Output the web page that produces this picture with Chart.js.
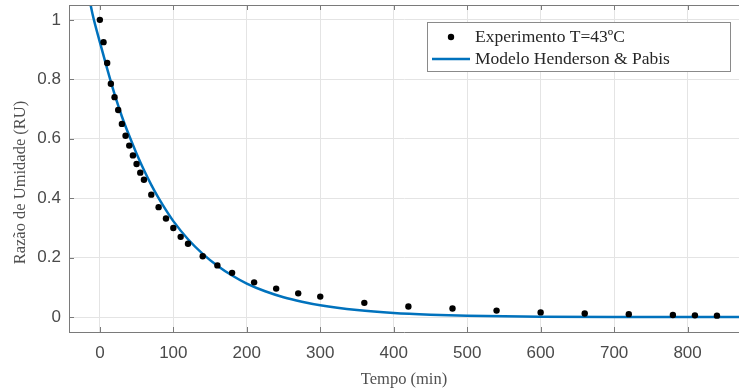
<!DOCTYPE html>
<html>
<head>
<meta charset="utf-8">
<script src="https://cdn.jsdelivr.net/npm/chart.js@4/dist/chart.umd.min.js"></script>
<style>
  html, body { margin: 0; padding: 0; background: #ffffff; }
  #wrap { position: relative; width: 739px; height: 392px; }
</style>
</head>
<body>
<div id="wrap"><canvas id="c" width="739" height="392"></canvas></div>
<script>
// ---- data ----
const xTicks = [0, 100, 200, 300, 400, 500, 600, 700, 800];
const yTicks = [0, 0.2, 0.4, 0.6, 0.8, 1];
const yTickLabels = ['0', '0.2', '0.4', '0.6', '0.8', '1'];

const expLabel = 'Experimento T=43ºC';
const expTime = [0, 5, 10, 15, 20, 25, 30, 35, 40, 45, 50, 55, 60, 70, 80, 90, 100, 110, 120, 140, 160, 180, 210, 240, 270, 300, 360, 420, 480, 540, 600, 660, 720, 780, 810, 840];
const expRU = [1.0, 0.925, 0.855, 0.785, 0.74, 0.697, 0.65, 0.61, 0.577, 0.544, 0.515, 0.486, 0.462, 0.412, 0.37, 0.332, 0.30, 0.27, 0.247, 0.205, 0.174, 0.149, 0.117, 0.096, 0.08, 0.069, 0.048, 0.036, 0.029, 0.022, 0.016, 0.012, 0.010, 0.007, 0.006, 0.005];

const modelLabel = 'Modelo Henderson & Pabis';
const modelTime = [-15, -10, 0, 10, 20, 30, 40, 50, 60, 70, 80, 90, 100, 120, 140, 160, 180, 200, 225, 250, 275, 300, 350, 400, 450, 500, 550, 600, 700, 800, 870];
const modelRU = [1.08, 1.02, 0.925, 0.835, 0.75, 0.675, 0.61, 0.55, 0.495, 0.445, 0.40, 0.36, 0.323, 0.262, 0.213, 0.173, 0.14, 0.113, 0.087, 0.067, 0.052, 0.040, 0.024, 0.014, 0.0083, 0.0049, 0.0029, 0.0017, 0.0006, 0.0002, 0.0001];

const xTitle = 'Tempo (min)';
const yTitle = 'Razão de Umidade (RU)';

// ---- styles ----
const BLUE = '#0072BD';
const AXIS = '#7a7a7a';
const GRID = '#e4e4e4';
const TICKTXT = '#4a4a4a';
const TITLETXT = '#505050';
const SANS = "'Liberation Sans', Arial, sans-serif";
const SERIF = "'Liberation Serif', 'Times New Roman', serif";

const framePlugin = {
  id: 'frame',
  afterDatasetsDraw(chart) {
    const {ctx, chartArea: a, scales: {x, y}} = chart;
    ctx.save();
    ctx.strokeStyle = AXIS;
    ctx.lineWidth = 1;
    ctx.beginPath();
    ctx.moveTo(a.left, a.top + 0.5);
    ctx.lineTo(a.right, a.top + 0.5);
    xTicks.forEach(v => {
      const px = Math.round(x.getPixelForValue(v)) + 0.5;
      ctx.moveTo(px, a.bottom);
      ctx.lineTo(px, a.bottom - 5);
      ctx.moveTo(px, a.top);
      ctx.lineTo(px, a.top + 5);
    });
    yTicks.forEach(v => {
      const py = Math.round(y.getPixelForValue(v)) + 0.5;
      ctx.moveTo(a.left, py);
      ctx.lineTo(a.left + 5, py);
    });
    ctx.stroke();
    ctx.restore();
  },
  afterDraw(chart) {
    const {ctx, chartArea: a} = chart;
    const ds = chart.data.datasets;
    // y axis title (centred slightly below the plot centre, as in the reference)
    ctx.save();
    ctx.fillStyle = TITLETXT;
    ctx.font = '16.5px ' + SERIF;
    ctx.textAlign = 'center';
    ctx.textBaseline = 'middle';
    ctx.translate(21, (a.top + a.bottom) / 2 + 14);
    ctx.rotate(-Math.PI / 2);
    ctx.fillText(yTitle, 0, 0);
    ctx.restore();
    // legend
    const boxR = a.right - 8, boxL = a.left + 358, boxT = a.top + 17, boxB = a.top + 67;
    ctx.save();
    ctx.fillStyle = '#ffffff';
    ctx.fillRect(boxL, boxT, boxR - boxL, boxB - boxT);
    ctx.strokeStyle = '#8a8a8a';
    ctx.lineWidth = 1;
    ctx.strokeRect(boxL + 0.5, boxT + 0.5, boxR - boxL - 1, boxB - boxT - 1);
    const row1 = boxT + 15, row2 = boxT + 37;
    ctx.fillStyle = '#000000';
    ctx.beginPath();
    ctx.arc(boxL + 24, row1, 3.2, 0, Math.PI * 2);
    ctx.fill();
    ctx.strokeStyle = BLUE;
    ctx.lineWidth = 2.5;
    ctx.beginPath();
    ctx.moveTo(boxL + 5, row2);
    ctx.lineTo(boxL + 43, row2);
    ctx.stroke();
    ctx.fillStyle = '#262626';
    ctx.font = '17.5px ' + SERIF;
    ctx.textBaseline = 'middle';
    ctx.textAlign = 'left';
    ctx.fillText(ds[0].label, boxL + 48, row1);
    ctx.fillText(ds[1].label, boxL + 48, row2);
    ctx.restore();
  }
};

new Chart(document.getElementById('c'), {
  type: 'scatter',
  data: {
    datasets: [
      {
        label: expLabel,
        data: expTime.map((t, i) => ({x: t, y: expRU[i]})),
        backgroundColor: '#000000',
        borderColor: '#000000',
        pointRadius: 3.2,
        pointBorderWidth: 0,
        showLine: false
      },
      {
        label: modelLabel,
        data: modelTime.map((t, i) => ({x: t, y: modelRU[i]})),
        borderColor: BLUE,
        backgroundColor: BLUE,
        borderWidth: 2.5,
        pointRadius: 0,
        showLine: true,
        cubicInterpolationMode: 'monotone',
        clip: 0
      }
    ]
  },
  options: {
    responsive: false,
    animation: false,
    devicePixelRatio: 1,
    layout: { autoPadding: false, padding: { left: 0, right: 0, top: 5, bottom: 0 } },
    plugins: { legend: { display: false }, tooltip: { enabled: false } },
    scales: {
      x: {
        type: 'linear',
        min: -42,
        max: 870,
        afterBuildTicks: s => { s.ticks = xTicks.map(v => ({value: v})); },
        afterFit: s => { s.height = 60; s.paddingLeft = 0; s.paddingRight = 0; },
        grid: { color: GRID, drawTicks: false, lineWidth: 1 },
        border: { display: true, color: AXIS, width: 1 },
        ticks: {
          color: TICKTXT,
          font: { family: SANS, size: 17 },
          padding: 11,
          maxRotation: 0,
          callback: v => String(v)
        },
        title: {
          display: true,
          text: xTitle,
          color: TITLETXT,
          font: { family: SERIF, size: 16.5 },
          padding: { top: 0, bottom: 2 }
        }
      },
      y: {
        type: 'linear',
        min: -0.05,
        max: 1.05,
        afterBuildTicks: s => { s.ticks = yTicks.map(v => ({value: v})); },
        afterFit: s => { s.width = 69; s.paddingTop = 0; s.paddingBottom = 0; },
        grid: { color: GRID, drawTicks: false, lineWidth: 1 },
        border: { display: true, color: AXIS, width: 1 },
        ticks: {
          color: TICKTXT,
          font: { family: SANS, size: 17 },
          padding: 8,
          callback: (v) => yTickLabels[yTicks.indexOf(v)] ?? String(v)
        },
        title: { display: false, text: yTitle }
      }
    }
  },
  plugins: [framePlugin]
});
</script>
</body>
</html>
